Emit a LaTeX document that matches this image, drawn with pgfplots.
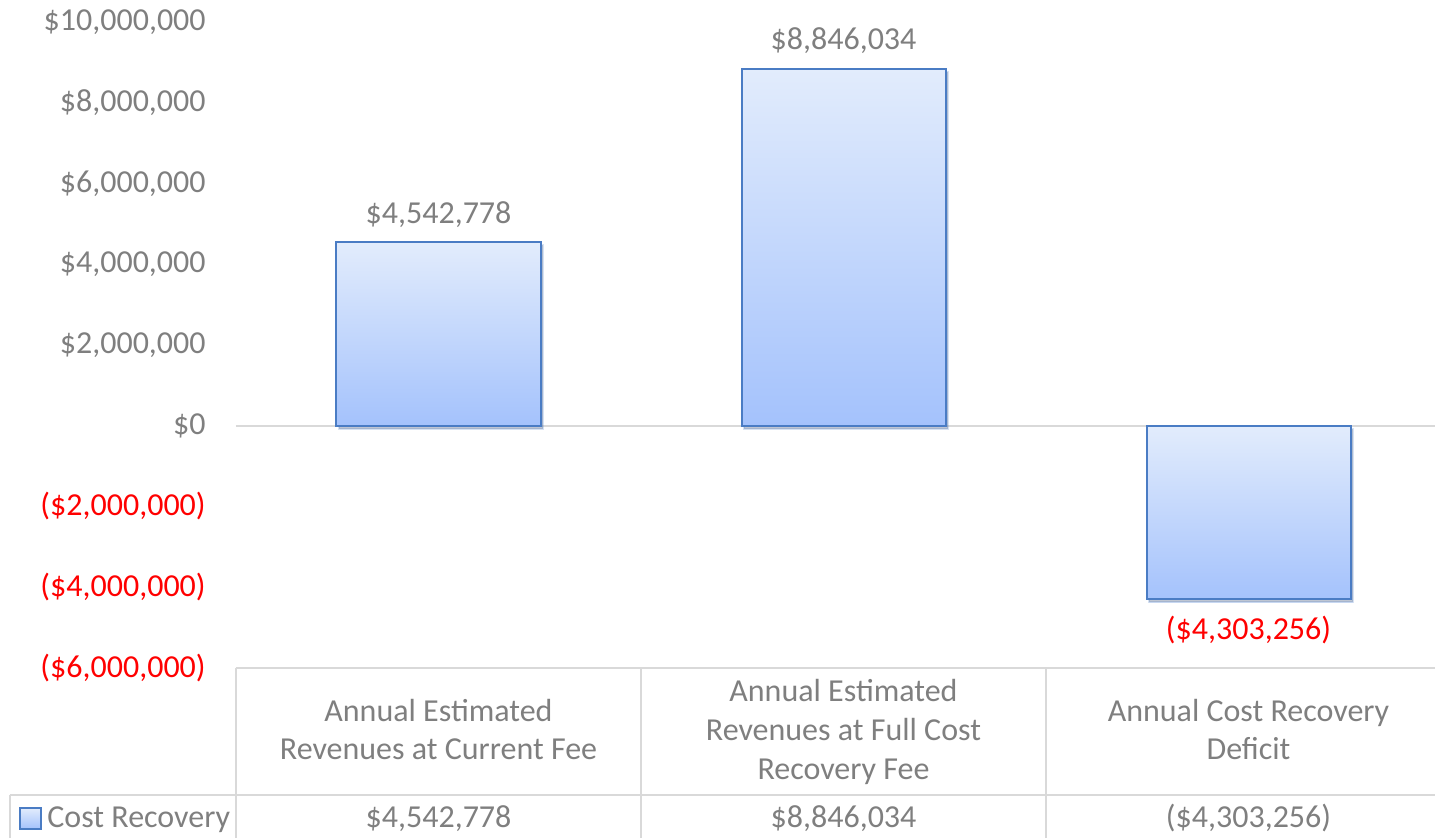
\documentclass[border=0pt]{standalone}
\usepackage{pgfplots}
\pgfplotsset{compat=1.18}
\usepackage{pgfplotstable}
\usepackage{fontspec}
\setmainfont{Carlito}
\usetikzlibrary{shadows}
\definecolor{txt}{HTML}{7F7F7F}
\definecolor{gridc}{HTML}{D9D9D9}
\definecolor{barTop}{HTML}{E2ECFC}
\definecolor{barBot}{HTML}{A4C2FC}
\definecolor{barEdge}{HTML}{4A7CC4}
\definecolor{negred}{HTML}{FF0000}
\newcommand{\cf}{\fontsize{16}{19.5}\selectfont}

\pgfplotstableread{
x y label
0 4542778 \$4,542,778
}\tabA
\pgfplotstableread{
x y label
1 8846034 \$8,846,034
}\tabB
\pgfplotstableread{
x y label
2 -4303256 \textcolor{negred}{(\$4,303,256)}
}\tabC

\pgfplotsset{costbar/.style={ybar, bar width=102pt, bar shift=0pt, draw=barEdge, line width=1pt,
  top color=barTop, bottom color=barBot,
  drop shadow={shadow xshift=1.2pt, shadow yshift=-1.5pt, fill=black, opacity=0.22}}}

\begin{document}
\begin{tikzpicture}
\begin{axis}[
  name=ax, at={(0,0)}, anchor=south west,
  scale only axis, width=607.5pt, height=323pt,
  xmin=-0.5, xmax=2.5, ymin=-6000000, ymax=10000000,
  xtick=\empty,
  ytick={-6000000,-4000000,-2000000,0,2000000,4000000,6000000,8000000,10000000},
  yticklabels={
    {\textcolor{negred}{(\$6,000,000)}},
    {\textcolor{negred}{(\$4,000,000)}},
    {\textcolor{negred}{(\$2,000,000)}},
    {\$0\hspace{3pt}},
    {\$2,000,000\hspace{3pt}},
    {\$4,000,000\hspace{3pt}},
    {\$6,000,000\hspace{3pt}},
    {\$8,000,000\hspace{3pt}},
    {\$10,000,000\hspace{3pt}}},
  scaled y ticks=false,
  /pgf/number format/assume math mode=true,
  yticklabel style={font=\cf, text=txt, inner sep=0pt, xshift=-15pt},
  major tick length=0pt,
  axis line style={draw=none},
  extra y ticks={0}, extra y tick labels={},
  extra y tick style={ymajorgrids=true, major grid style={gridc, line width=1pt}},
  clip=false,
  ybar, bar width=102pt, bar shift=0pt,
  nodes near coords, point meta=explicit symbolic,
  nodes near coords style={font=\cf, text=txt},
]
\addplot[costbar, nodes near coords style={anchor=south, inner sep=7pt}]
  table[x=x, y=y, meta=label] {\tabA};
\addplot[costbar, nodes near coords style={anchor=south, inner sep=7pt}]
  table[x=x, y=y, meta=label] {\tabB};
\addplot[costbar, nodes near coords style={anchor=north, inner sep=8pt}]
  table[x=x, y=y, meta=label] {\tabC};
\end{axis}
\begin{scope}[shift={(ax.south west)}]
  \draw[gridc, line width=1pt] (0,0) -- (607.5pt,0);
  \draw[gridc, line width=1pt] (-113pt,-63.5pt) -- (607.5pt,-63.5pt);
  \draw[gridc, line width=1pt] (0,0) -- (0,-90pt);
  \draw[gridc, line width=1pt] (202.5pt,0) -- (202.5pt,-90pt);
  \draw[gridc, line width=1pt] (405pt,0) -- (405pt,-90pt);
  \draw[gridc, line width=1pt] (-113pt,-63.5pt) -- (-113pt,-90pt);
  \begin{scope}[every node/.style={font=\cf, text=txt, anchor=base, inner sep=0pt}]
    \node at (101.25pt,-27pt) {Annual Estimated};
    \node at (101.25pt,-46pt) {Revenues at Current Fee};
    \node at (303.75pt,-17pt) {Annual Estimated};
    \node at (303.75pt,-36.5pt) {Revenues at Full Cost};
    \node at (303.75pt,-56pt) {Recovery Fee};
    \node at (506.25pt,-27pt) {Annual Cost Recovery};
    \node at (506.25pt,-46pt) {Deficit};
    \node at (101.25pt,-80pt) {\$4,542,778};
    \node at (303.75pt,-80pt) {\$8,846,034};
    \node at (506.25pt,-80pt) {(\$4,303,256)};
    \node[anchor=base west] at (-94.5pt,-80pt) {Cost Recovery};
  \end{scope}
  \draw[barEdge, line width=0.8pt, top color=barTop, bottom color=barBot]
    (-108pt,-80.5pt) rectangle (-97.5pt,-70pt);
  \pgfresetboundingbox
  \useasboundingbox (-118pt,-85pt) rectangle (599.5pt,334pt);
\end{scope}
\end{tikzpicture}
\end{document}
